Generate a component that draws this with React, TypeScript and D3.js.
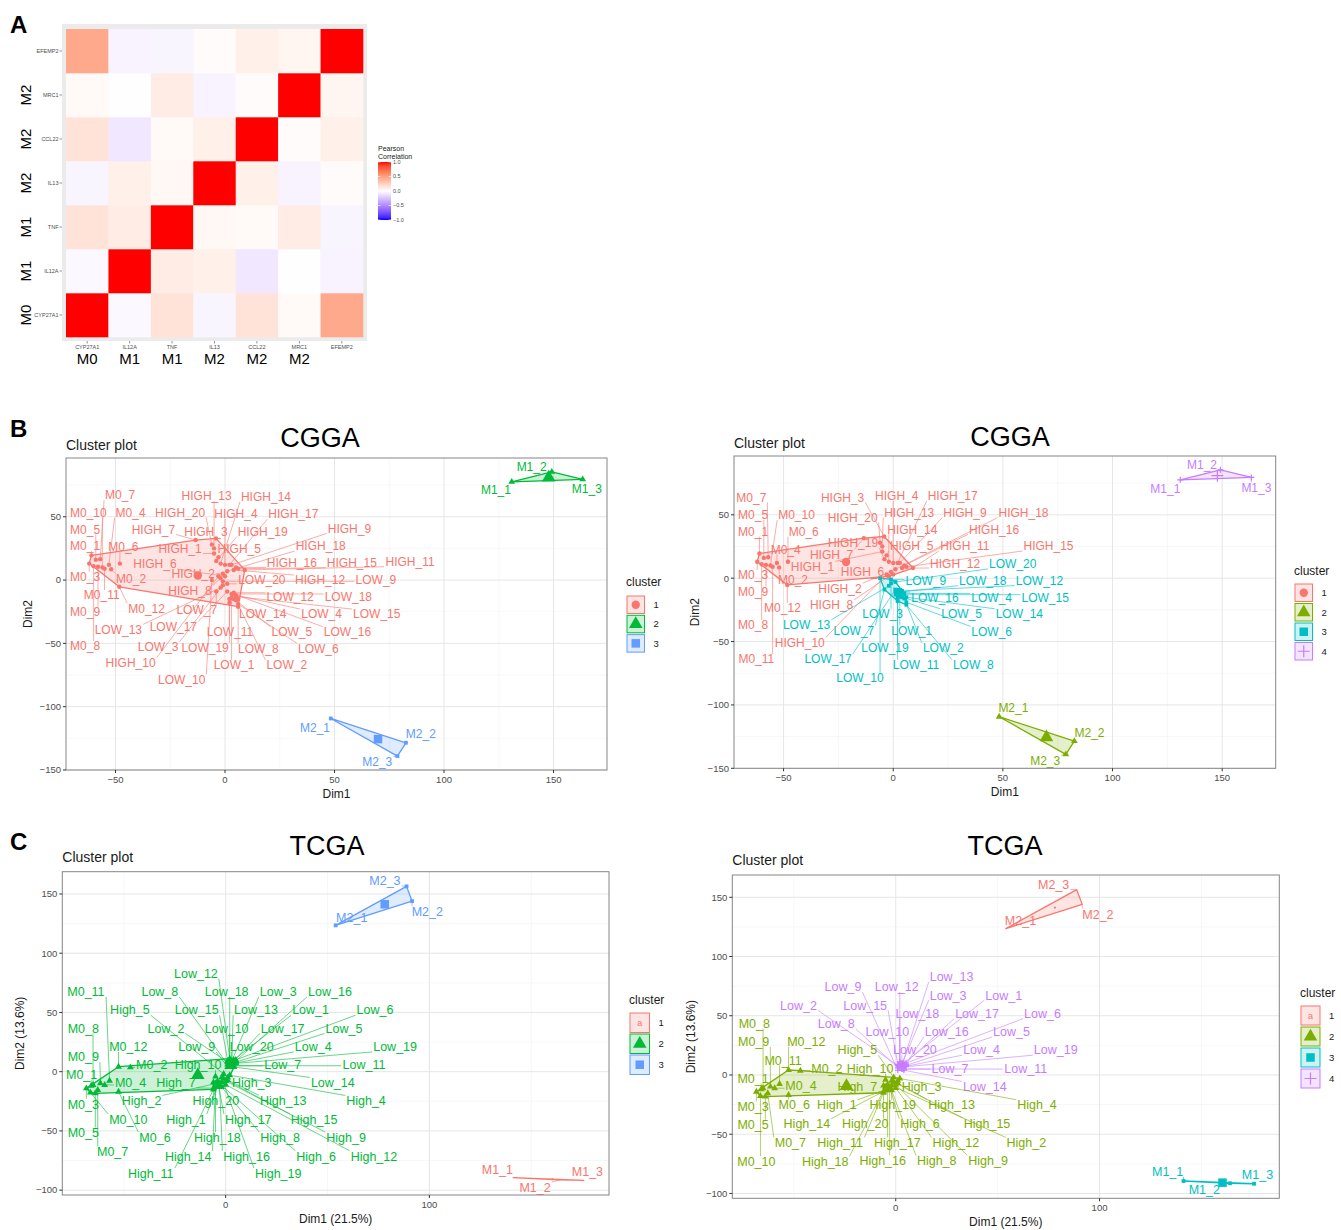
import React from 'react'
import * as d3 from 'd3'

// ---- panel A: correlation heatmap ----
const genes = ['CYP27A1', 'IL12A', 'TNF', 'IL13', 'CCL22', 'MRC1', 'EFEMP2']
const geneGroups = ['M0', 'M1', 'M1', 'M2', 'M2', 'M2', '']
// rows/cols in the order of genes
const corr = [
  [1.0, -0.03, 0.15, -0.04, 0.15, 0.03, 0.45],
  [-0.03, 1.0, 0.1, 0.08, -0.1, -0.01, -0.05],
  [0.15, 0.1, 1.0, 0.04, 0.03, 0.1, -0.04],
  [-0.04, 0.08, 0.04, 1.0, 0.08, -0.05, 0.02],
  [0.15, -0.1, 0.03, 0.08, 1.0, 0.02, 0.08],
  [0.03, -0.01, 0.1, -0.05, 0.02, 1.0, 0.05],
  [0.45, -0.05, -0.04, 0.02, 0.08, 0.05, 1.0],
]
const corrTicks = [1.0, 0.5, 0.0, -0.5, -1.0]

// ---- panels B/C: cluster plots ----
type Pt = [string, number, number]

const cggaPoints: Pt[] = [
  ['M0_1', -61, 19.5], ['M0_2', -52, 8.5], ['M0_3', -62, 13], ['M0_4', -53, 12], ['M0_5', -59, 16], ['M0_6', -48, 13],
  ['M0_7', -57, 16.5], ['M0_8', -60, 11], ['M0_9', -58, 10.5], ['M0_10', -56, 10], ['M0_11', -55, 9], ['M0_12', -48.3, -5.3],
  ['HIGH_1', -5, 21], ['HIGH_2', -1, 5], ['HIGH_3', -4.1, 32.9], ['HIGH_4', 0, 12], ['HIGH_5', -3, 18], ['HIGH_6', 0, 3],
  ['HIGH_7', -13.4, 31.6], ['HIGH_8', -2, 1.5], ['HIGH_9', 3, 12], ['HIGH_10', -3, 3], ['HIGH_11', 9, 8], ['HIGH_12', 4, 8],
  ['HIGH_13', -5, 25], ['HIGH_14', -2, 13], ['HIGH_15', 6, 9], ['HIGH_16', 5, 10], ['HIGH_17', 2, 12], ['HIGH_18', 1, 7],
  ['HIGH_19', -4, 15], ['HIGH_20', -6, 28],
  ['LOW_1', 3, -14], ['LOW_2', 5, -16], ['LOW_3', -1, -4], ['LOW_4', 5, -12], ['LOW_5', 4, -15], ['LOW_6', 6, -19],
  ['LOW_7', -4, -9], ['LOW_8', 6, -21], ['LOW_9', -1, -1], ['LOW_10', -6, 0], ['LOW_11', 2, -18], ['LOW_12', 4, -10],
  ['LOW_13', -2, -6], ['LOW_14', 6, -15], ['LOW_15', 5, -13], ['LOW_16', 4, -11], ['LOW_17', 1, -9], ['LOW_18', 3, -11],
  ['LOW_19', 2, -15], ['LOW_20', 1, -3],
  ['M1_1', 130.9, 77.6], ['M1_2', 149.2, 85.5], ['M1_3', 163.3, 79.5],
  ['M2_1', 48.3, -109.3], ['M2_2', 82.6, -128.5], ['M2_3', 78.7, -139],
]

const cggaLabelsK3: Pt[] = [
  ['M0_7', -47.9, 67.1], ['M0_10', -62.4, 53.2], ['M0_4', -43.1, 53.2], ['HIGH_20', -20.5, 53.2], ['HIGH_13', -8.4, 66.4],
  ['HIGH_14', 18.7, 65.8], ['HIGH_4', 5, 52.1], ['HIGH_17', 31.2, 52.1], ['M0_5', -63.9, 40], ['HIGH_7', -32.7, 40],
  ['HIGH_3', -8.7, 38.2], ['HIGH_19', 17.2, 38.2], ['HIGH_9', 56.8, 40.8], ['M0_1', -63.9, 26.9], ['M0_6', -46.4, 26.3],
  ['HIGH_1', -20.5, 25], ['HIGH_5', 6.5, 25], ['HIGH_18', 43.7, 26.9], ['HIGH_6', -32, 12.6], ['HIGH_2', -14.5, 5.3],
  ['HIGH_16', 30.5, 13.7], ['HIGH_15', 57.9, 13.7], ['HIGH_11', 84.5, 14.5], ['M0_3', -63.9, 2.6], ['M0_2', -42.9, 1.3],
  ['LOW_20', 16.8, 0], ['HIGH_12', 43.4, 0], ['LOW_9', 68.9, 0], ['HIGH_8', -16, -8.4], ['M0_11', -56.3, -11.8],
  ['LOW_12', 29.7, -13.2], ['LOW_18', 56.3, -13.2], ['M0_12', -35.8, -22.4], ['LOW_7', -12.9, -23.2], ['M0_9', -63.9, -25],
  ['LOW_14', 17.2, -26.9], ['LOW_4', 44.1, -26.9], ['LOW_15', 69.3, -26.9], ['LOW_13', -48.7, -39], ['LOW_17', -23.6, -36.9],
  ['LOW_11', 2.3, -40.8], ['LOW_5', 30.5, -40.8], ['LOW_16', 55.9, -40.8], ['M0_8', -63.9, -52.1], ['LOW_3', -30.5, -52.7],
  ['LOW_19', -9.1, -53.5], ['LOW_8', 15.2, -54], ['LOW_6', 42.6, -54], ['HIGH_10', -43.1, -65.3], ['LOW_1', 4.1, -67.1],
  ['LOW_2', 28.2, -67.1], ['LOW_10', -19.8, -78.4], ['M1_1', 123.7, 71.1], ['M1_2', 140, 89.5], ['M1_3', 165.2, 72.4],
  ['M2_1', 41.1, -116.4], ['M2_2', 89.4, -121.6], ['M2_3', 69.5, -143.5],
]

const cggaLabelsK4: Pt[] = [
  ['M0_7', -64.7, 63.8], ['HIGH_3', -23.1, 63.8], ['HIGH_4', 1.6, 64.8], ['HIGH_17', 27.1, 64.8], ['M0_5', -63.9, 49.8],
  ['M0_10', -44.1, 49.8], ['HIGH_20', -18.5, 48], ['HIGH_13', 7.3, 51.7], ['HIGH_9', 32.7, 51.7], ['HIGH_18', 59.4, 51.7],
  ['M0_1', -63.9, 36.7], ['M0_6', -40.8, 36.7], ['HIGH_14', 8.7, 38.6], ['HIGH_16', 46, 38.6], ['M0_4', -49, 22.8],
  ['HIGH_19', -18.3, 28], ['HIGH_5', 8.4, 25.4], ['HIGH_11', 32.7, 25.4], ['HIGH_15', 70.8, 25.4], ['HIGH_7', -28.1, 18.7],
  ['HIGH_1', -36.8, 9.3], ['HIGH_12', 28.2, 11.8], ['LOW_20', 54.5, 11.3], ['M0_3', -63.9, 2.6], ['M0_2', -45.7, -1],
  ['HIGH_6', -14, 5.2], ['LOW_9', 14.9, -1.9], ['LOW_18', 40.8, -1.9], ['LOW_12', 66.7, -1.9], ['M0_9', -63.9, -10.6],
  ['HIGH_2', -24.3, -7.9], ['LOW_16', 19, -15], ['LOW_4', 44.9, -15], ['LOW_15', 69.3, -15], ['M0_12', -50.5, -23.6],
  ['HIGH_8', -28.1, -21], ['LOW_3', -4.8, -28.1], ['LOW_5', 31.2, -28.1], ['LOW_14', 57.5, -28.1], ['M0_8', -63.9, -36.8],
  ['LOW_13', -39.5, -36.8], ['LOW_7', -17.9, -41.2], ['LOW_1', 8.4, -41.2], ['LOW_6', 44.9, -42], ['HIGH_10', -42.6, -50.7],
  ['LOW_19', -3.8, -55.1], ['LOW_2', 22.8, -55.1], ['M0_11', -62.4, -63.8], ['LOW_17', -29.7, -63.8], ['LOW_11', 10.4, -68.3],
  ['LOW_8', 36.5, -68.3], ['LOW_10', -15.2, -78.7], ['M2_1', 54.8, -102.4], ['M2_3', 69.3, -143.6], ['M2_2', 89.5, -121.6],
  ['M1_1', 124.1, 70.9], ['M1_2', 140.8, 89.2], ['M1_3', 165.6, 71.7],
]

const tcgaPoints: Pt[] = [
  ['M0_1', -66, -12], ['M0_2', -46.8, 3.6], ['M0_3', -68.4, -14.1], ['M0_4', -59.4, -11.2], ['M0_5', -64, -18.3],
  ['M0_6', -52.6, -16.9], ['M0_7', -62.8, -15.4], ['M0_8', -65.1, -11.2], ['M0_9', -61.5, -9.8], ['M0_10', -66.4, -17.7],
  ['M0_11', -57, -7.6], ['M0_12', -52.6, 4.2],
  ['High_1', -4, -12], ['High_2', -2, -9], ['High_3', 1, -5], ['High_4', 2, -3], ['High_5', -1, -2], ['High_6', -3, -10],
  ['High_7', -6, -14], ['High_8', -2, -13], ['High_9', 0, -8], ['High_10', -5, -4], ['High_11', -6, -15], ['High_12', 0, -11],
  ['High_13', 1, -7], ['High_14', -5, -13], ['High_15', -1, -6], ['High_16', -3, -12], ['High_17', -4, -8], ['High_18', -5, -10],
  ['High_19', -2, -5], ['High_20', -6, -9],
  ['Low_1', 4, 10], ['Low_2', 1, 8], ['Low_3', 3, 9], ['Low_4', 4, 7], ['Low_5', 5, 8], ['Low_6', 5, 10], ['Low_7', 3, 5],
  ['Low_8', 1, 6], ['Low_9', 1, 4], ['Low_10', 2, 7], ['Low_11', 4, 5], ['Low_12', 2, 11], ['Low_13', 3, 8], ['Low_14', 4, 4],
  ['Low_15', 1, 9], ['Low_16', 5, 9], ['Low_17', 4, 9], ['Low_18', 2, 9], ['Low_19', 5, 7], ['Low_20', 3, 6],
  ['M1_1', 141.2, -89.5], ['M1_2', 164, -91.4], ['M1_3', 175.8, -91.8],
  ['M2_1', 54, 123.5], ['M2_2', 91.5, 144], ['M2_3', 88.8, 156.4],
]

const tcgaLabelsK3: Pt[] = [
  ['M2_3', 78.2, 161.3], ['M2_1', 61.9, 130.4], ['M2_2', 99, 135.1], ['Low_12', -14.6, 83.1], ['M0_11', -68.6, 67.6],
  ['Low_8', -32.3, 67.6], ['Low_18', 0.5, 67.6], ['Low_3', 25.8, 67.6], ['Low_16', 51.2, 67.6], ['High_5', -47, 52.1],
  ['Low_15', -14.2, 52.1], ['Low_13', 14.9, 52.1], ['Low_1', 41.7, 52.1], ['Low_6', 73.3, 52.1], ['M0_8', -69.9, 36.7],
  ['Low_2', -29.3, 36.7], ['Low_10', 0.5, 36.7], ['Low_17', 28, 36.7], ['Low_5', 58.1, 36.7], ['M0_12', -47.8, 21.1],
  ['Low_9', -14.2, 21.1], ['Low_20', 12.8, 21.1], ['Low_4', 43, 21.1], ['Low_19', 83.2, 21.1], ['M0_9', -69.9, 12.7],
  ['M0_2', -36.3, 5.7], ['High_10', -13.5, 5.7], ['Low_7', 28, 5.7], ['Low_11', 67.9, 5.7], ['M0_1', -70.7, -2.8],
  ['M0_4', -46.7, -9.3], ['High_7', -24.4, -9.3], ['High_3', 12.8, -9.3], ['Low_14', 52.6, -9.3], ['M0_3', -69.9, -27.3],
  ['High_2', -41.3, -24.5], ['High_20', -4.8, -24.5], ['High_13', 28.3, -24.5], ['High_4', 68.9, -24.5], ['M0_10', -47.8, -40.2],
  ['High_1', -19.5, -40.2], ['High_17', 11.1, -40.2], ['High_15', 43.4, -40.2], ['M0_5', -69.9, -51.5], ['M0_6', -34.7, -55.4],
  ['High_18', -4.1, -55.4], ['High_8', 26.7, -55.4], ['High_9', 59.1, -55.4], ['M0_7', -55.5, -67.6], ['High_14', -18.4, -71.2],
  ['High_16', 10.3, -71.2], ['High_6', 44.4, -71.2], ['High_12', 72.8, -71.2], ['High_11', -36.8, -85.8], ['High_19', 25.8, -85.8],
  ['M1_1', 133.4, -82.4], ['M1_3', 177.6, -84.5], ['M1_2', 151.9, -97.6],
]

const tcgaLabelsK4: Pt[] = [
  ['M2_3', 77.5, 161], ['M2_1', 61.2, 130.7], ['M2_2', 99.2, 135.8], ['Low_13', 27.4, 82.9], ['Low_9', -25.9, 74.5],
  ['Low_12', 0.5, 74.5], ['Low_3', 25.7, 67.5], ['Low_1', 53, 67.5], ['Low_2', -47.7, 59], ['Low_15', -15, 59],
  ['Low_18', 10.6, 52], ['Low_17', 39.9, 52], ['Low_6', 72, 52], ['M0_8', -69.4, 43.6], ['Low_8', -29.2, 43.6],
  ['Low_10', -4.1, 36.5], ['Low_16', 25, 36.5], ['Low_5', 56.8, 36.5], ['M0_9', -69.7, 28.1], ['M0_12', -43.9, 28.1],
  ['High_5', -18.8, 21.1], ['Low_20', 9.4, 21.1], ['Low_4', 42.1, 21.1], ['Low_19', 78.5, 21.1], ['M0_11', -55.3, 12.6],
  ['M0_2', -33.8, 5.6], ['High_10', -12.6, 5.6], ['Low_7', 26.6, 5.6], ['Low_11', 63.8, 5.6], ['M0_1', -70, -2.8],
  ['M0_4', -46.5, -9.3], ['High_7', -18.8, -9.9], ['High_3', 12.7, -9.9], ['Low_14', 43.7, -9.9], ['M0_3', -70, -26.7],
  ['M0_6', -49.8, -25.3], ['High_1', -28.9, -25.3], ['High_19', -1.5, -25.3], ['High_13', 27.4, -25.3], ['High_4', 69.3, -25.3],
  ['M0_5', -70, -42.2], ['High_14', -43.6, -41.3], ['High_20', -15, -41.3], ['High_6', 11.9, -41.3], ['High_15', 44.8, -40.7],
  ['M0_7', -51.7, -57.1], ['High_11', -27.3, -57.1], ['High_17', 0.8, -57.1], ['High_12', 29.5, -57.1], ['High_2', 64.1, -57.1],
  ['M0_10', -68.4, -73.1], ['High_18', -34.6, -73.1], ['High_16', -6.4, -72.3], ['High_8', 20.1, -72.3], ['High_9', 45.3, -72.3],
  ['M1_1', 133.4, -81.5], ['M1_3', 177.5, -84.3], ['M1_2', 151.4, -97],
]

// cluster membership by sample group
const cggaClustersK3: Record<string, number> = { M0: 1, HIGH: 1, LOW: 1, M1: 2, M2: 3 }
const cggaClustersK4: Record<string, number> = { M0: 1, HIGH: 1, M2: 2, LOW: 3, M1: 4 }
const tcgaClustersK3: Record<string, number> = { M1: 1, M0: 2, High: 2, Low: 2, M2: 3 }
const tcgaClustersK4: Record<string, number> = { M2: 1, M0: 2, High: 2, M1: 3, Low: 4 }

const hue3 = ['#F8766D', '#00BA38', '#619CFF']
const hue4 = ['#F8766D', '#7CAE00', '#00BFC4', '#C77CFF']

const cggaXTicks = [-50, 0, 50, 100, 150]
const cggaYTicks = [-150, -100, -50, 0, 50]
const tcgaXTicks = [0, 100]
const tcgaYTicks = [-100, -50, 0, 50, 100, 150]

const FONT = "'Liberation Sans', Arial, Helvetica, sans-serif"
const charW: Record<string, number> = { H: 0.722, I: 0.278, G: 0.778, L: 0.556, O: 0.778, W: 0.944, M: 0.833, i: 0.222, w: 0.722 }
const textW = (s: string, fs: number) => s.split('').reduce((a, c) => a + (charW[c] ?? 0.556) * fs, 0)
const fmt = (v: number) => (v < 0 ? '\u2212' + Math.abs(v) : String(v))

function minorBreaks(ticks: number[], dom: number[]) {
  const step = ticks[1] - ticks[0]
  const out: number[] = []
  for (let v = ticks[0] - step / 2; v <= ticks[ticks.length - 1] + step / 2; v += step)
    if (v > dom[0] && v < dom[1]) out.push(v)
  return out
}

function mark(c: number, cx: number, cy: number, big: boolean, color: string, key?: any) {
  if (c === 1) return <circle key={key} cx={cx} cy={cy} r={big ? 4.2 : 2.2} fill={color} />
  if (c === 2)
    return <path key={key} transform={`translate(${cx},${cy})`} d={d3.symbol(d3.symbolTriangle, big ? 80 : 20)() || ''} fill={color} />
  if (c === 3) {
    const s = big ? 8.5 : 3.8
    return <rect key={key} x={cx - s / 2} y={cy - s / 2} width={s} height={s} fill={color} />
  }
  const s = big ? 6 : 3
  return <path key={key} d={`M${cx - s},${cy}H${cx + s}M${cx},${cy - s}V${cy + s}`} stroke={color} strokeWidth={1.2} fill="none" />
}

function ClusterPlot(props: any) {
  const { box, xDomain, yDomain, xTicks, yTicks, points, labels, groups, colors, fs, header, headerX, headerY,
    titleY, xTitle, yTitle, yTitleX, legend, hidden } = props
  const x = d3.scaleLinear().domain(xDomain).range([box.l, box.r])
  const y = d3.scaleLinear().domain(yDomain).range([box.b, box.t])
  const clusterOf = (n: string) => groups[n.split('_')[0]]
  const pos = new Map<string, [number, number]>(points.map((p: Pt) => [p[0], [x(p[1]), y(p[2])]]))
  const clusters = d3.range(1, colors.length + 1)
  const members = clusters.map(c => points.filter((p: Pt) => clusterOf(p[0]) === c))
  const col = (c: number) => colors[c - 1]

  return (
    <g fontFamily={FONT}>
      <rect x={box.l} y={box.t} width={box.r - box.l} height={box.b - box.t} fill="#fff" />
      {minorBreaks(xTicks, xDomain).map(v => <line key={'mx' + v} x1={x(v)} x2={x(v)} y1={box.t} y2={box.b} stroke="#F2F2F2" strokeWidth={0.6} />)}
      {minorBreaks(yTicks, yDomain).map(v => <line key={'my' + v} y1={y(v)} y2={y(v)} x1={box.l} x2={box.r} stroke="#F2F2F2" strokeWidth={0.6} />)}
      {xTicks.map((v: number) => <line key={'gx' + v} x1={x(v)} x2={x(v)} y1={box.t} y2={box.b} stroke="#E6E6E6" strokeWidth={1} />)}
      {yTicks.map((v: number) => <line key={'gy' + v} y1={y(v)} y2={y(v)} x1={box.l} x2={box.r} stroke="#E6E6E6" strokeWidth={1} />)}

      {members.map((m: Pt[], i: number) => {
        if (m.length < 2) return null
        const hull = d3.polygonHull(m.map(p => pos.get(p[0]) as [number, number])) || m.map(p => pos.get(p[0]) as [number, number])
        return <path key={'h' + i} d={'M' + hull.map(p => p.join(',')).join('L') + 'Z'} fill={colors[i]} fillOpacity={0.2}
          stroke={colors[i]} strokeWidth={1.3} strokeLinejoin="round" />
      })}

      {members.map((m: Pt[], i: number) =>
        m.map(p => {
          const c = i + 1
          if (hidden === c) return null
          const [px, py] = pos.get(p[0]) as [number, number]
          return mark(c, px, py, false, colors[i], 'p' + p[0])
        })
      )}
      {members.map((m: Pt[], i: number) => {
        if (!m.length) return null
        const cx = x(d3.mean(m, p => p[1]) as number)
        const cy = y(d3.mean(m, p => p[2]) as number)
        if (hidden === i + 1) return <circle key={'c' + i} cx={cx} cy={cy} r={1.1} fill={colors[i]} />
        return mark(i + 1, cx, cy, true, colors[i], 'c' + i)
      })}

      {labels.map((l: Pt) => {
        const c = clusterOf(l[0])
        const [px, py] = pos.get(l[0]) as [number, number]
        const lx = x(l[1]), ly = y(l[2])
        const w = textW(l[0], fs) / 2 + 1, h = fs * 0.42
        const qx = Math.max(lx - w, Math.min(lx + w, px))
        const qy = Math.max(ly - h, Math.min(ly + h, py))
        const far = Math.hypot(qx - px, qy - py) > 4
        return (
          <g key={'l' + l[0]}>
            {far && <line x1={px} y1={py} x2={qx} y2={qy} stroke={col(c)} strokeWidth={0.6} />}
            <text x={lx} y={ly} dy="0.36em" textAnchor="middle" fontSize={fs} fill={col(c)}>{l[0]}</text>
          </g>
        )
      })}

      <rect x={box.l} y={box.t} width={box.r - box.l} height={box.b - box.t} fill="none" stroke="#858585" strokeWidth={1} />

      {xTicks.map((v: number) => (
        <g key={'tx' + v}>
          <line x1={x(v)} x2={x(v)} y1={box.b} y2={box.b + 3} stroke="#333" />
          <text x={x(v)} y={box.b + 13} textAnchor="middle" fontSize={9.5} fill="#4D4D4D">{fmt(v)}</text>
        </g>
      ))}
      {yTicks.map((v: number) => (
        <g key={'ty' + v}>
          <line x1={box.l - 3} x2={box.l} y1={y(v)} y2={y(v)} stroke="#333" />
          <text x={box.l - 5} y={y(v)} dy="0.35em" textAnchor="end" fontSize={9.5} fill="#4D4D4D">{fmt(v)}</text>
        </g>
      ))}
      <text x={(box.l + box.r) / 2} y={box.b + 28} textAnchor="middle" fontSize={12} fill="#1a1a1a">{xTitle}</text>
      <text transform={`translate(${yTitleX},${(box.t + box.b) / 2}) rotate(-90)`} textAnchor="middle" fontSize={12} fill="#1a1a1a">{yTitle}</text>
      <text x={box.l} y={titleY} fontSize={14} fill="#1a1a1a">Cluster plot</text>
      <text x={headerX} y={headerY} textAnchor="middle" fontSize={27} fill="#000">{header}</text>

      <text x={legend.x} y={legend.y} fontSize={12} fill="#1a1a1a">cluster</text>
      {clusters.map((c, i) => {
        const ky = legend.top + i * legend.step
        const s = legend.size
        const kx = legend.x + 1
        return (
          <g key={'k' + c}>
            <rect x={kx} y={ky} width={s} height={s} fill={col(c)} fillOpacity={0.2} stroke={col(c)} strokeWidth={1} />
            {hidden === c
              ? <text x={kx + s / 2} y={ky + s / 2} dy="0.35em" textAnchor="middle" fontSize={9} fill={col(c)}>a</text>
              : mark(c, kx + s / 2, ky + s / 2, true, col(c))}
            <text x={kx + s + 9} y={ky + s / 2} dy="0.35em" fontSize={9.5} fill="#1a1a1a">{c}</text>
          </g>
        )
      })}
    </g>
  )
}

function Heatmap() {
  const x = d3.scaleBand().domain(genes).range([66, 363])
  const y = d3.scaleBand().domain(genes).range([337, 29])
  const color = d3.scaleLinear<string>().domain([-1, 0, 1]).range(['blue', 'white', 'red']).interpolate(d3.interpolateLab)
  const leg = d3.scaleLinear().domain([-1, 1]).range([220, 162])
  const stops = d3.ticks(-1, 1, 20)
  return (
    <g fontFamily={FONT}>
      <defs>
        <linearGradient id="corrbar" x1="0" y1="1" x2="0" y2="0">
          {stops.map(v => <stop key={v} offset={(v + 1) / 2} stopColor={color(v)} />)}
        </linearGradient>
      </defs>
      <rect x={62} y={24} width={305} height={317} fill="#EBEBEB" />
      {genes.map((rg, r) =>
        genes.map((cg, c) => (
          <rect key={rg + cg} x={x(cg)} y={y(rg)} width={x.bandwidth() + 0.3} height={y.bandwidth() + 0.3} fill={color(corr[r][c])} />
        ))
      )}
      {genes.map(g => (
        <g key={'y' + g}>
          <line x1={59.5} x2={62} y1={(y(g) as number) + y.bandwidth() / 2} y2={(y(g) as number) + y.bandwidth() / 2} stroke="#4D4D4D" strokeWidth={0.6} />
          <text x={58.5} y={(y(g) as number) + y.bandwidth() / 2} dy="0.35em" textAnchor="end" fontSize={5.5} fill="#4D4D4D">{g}</text>
          <line y1={341} y2={343.5} x1={(x(g) as number) + x.bandwidth() / 2} x2={(x(g) as number) + x.bandwidth() / 2} stroke="#4D4D4D" strokeWidth={0.6} />
          <text x={(x(g) as number) + x.bandwidth() / 2} y={349} textAnchor="middle" fontSize={5.5} fill="#4D4D4D">{g}</text>
        </g>
      ))}
      {genes.map((g, i) => geneGroups[i] && (
        <g key={'grp' + g}>
          <text x={(x(g) as number) + x.bandwidth() / 2} y={364} textAnchor="middle" fontSize={15} fill="#000">{geneGroups[i]}</text>
          <text transform={`translate(30.5,${(y(g) as number) + y.bandwidth() / 2}) rotate(-90)`} textAnchor="middle" fontSize={15} fill="#000">{geneGroups[i]}</text>
        </g>
      ))}
      <text x={378} y={151} fontSize={7} fill="#1a1a1a">Pearson</text>
      <text x={378} y={159} fontSize={7} fill="#1a1a1a">Correlation</text>
      <rect x={378} y={162} width={13} height={58} fill="url(#corrbar)" />
      {corrTicks.map(v => (
        <g key={'ct' + v}>
          <line x1={378} x2={380.5} y1={leg(v)} y2={leg(v)} stroke="#fff" strokeWidth={0.6} />
          <line x1={388.5} x2={391} y1={leg(v)} y2={leg(v)} stroke="#fff" strokeWidth={0.6} />
          <text x={393} y={leg(v)} dy="0.35em" fontSize={5.5} fill="#4D4D4D">{v === 0 ? '0.0' : (v < 0 ? '\u2212' : '') + Math.abs(v).toFixed(1)}</text>
        </g>
      ))}
    </g>
  )
}

export default function App() {
  const cggaX = [-72.6, 174.4], cggaY = [-150, 96.4]
  const tcgaX = [-80.2, 188.2], tcgaY = [-104.1, 168.8]
  return (
    <svg width={1341} height={1230} style={{ position: 'absolute', left: 0, top: 0, background: '#fff' }} fontFamily={FONT}>
      <text x={10} y={33} fontSize={24} fontWeight="bold">A</text>
      <text x={10} y={437} fontSize={24} fontWeight="bold">B</text>
      <text x={10} y={850} fontSize={24} fontWeight="bold">C</text>
      <Heatmap />
      <ClusterPlot box={{ l: 66, r: 607, t: 458, b: 770 }} xDomain={cggaX} yDomain={cggaY} xTicks={cggaXTicks} yTicks={cggaYTicks}
        points={cggaPoints} labels={cggaLabelsK3} groups={cggaClustersK3} colors={hue3} fs={12}
        header="CGGA" headerX={320} headerY={447} titleY={450} xTitle="Dim1" yTitle="Dim2" yTitleX={32}
        legend={{ x: 626, y: 586, top: 596, step: 19.3, size: 17.5 }} />
      <ClusterPlot box={{ l: 734, r: 1275.7, t: 456, b: 768.3 }} xDomain={cggaX} yDomain={cggaY} xTicks={cggaXTicks} yTicks={cggaYTicks}
        points={cggaPoints} labels={cggaLabelsK4} groups={cggaClustersK4} colors={hue4} fs={12}
        header="CGGA" headerX={1010} headerY={446} titleY={448} xTitle="Dim1" yTitle="Dim2" yTitleX={699}
        legend={{ x: 1294, y: 575, top: 584, step: 19.5, size: 17.5 }} />
      <ClusterPlot box={{ l: 62.3, r: 609, t: 871.7, b: 1195 }} xDomain={tcgaX} yDomain={tcgaY} xTicks={tcgaXTicks} yTicks={tcgaYTicks}
        points={tcgaPoints} labels={tcgaLabelsK3} groups={tcgaClustersK3} colors={hue3} fs={12.5} hidden={1}
        header="TCGA" headerX={327} headerY={855} titleY={862} xTitle="Dim1 (21.5%)" yTitle="Dim2 (13.6%)" yTitleX={24}
        legend={{ x: 629, y: 1004, top: 1013, step: 21, size: 19.5 }} />
      <ClusterPlot box={{ l: 732.3, r: 1279.3, t: 875, b: 1198.3 }} xDomain={tcgaX} yDomain={tcgaY} xTicks={tcgaXTicks} yTicks={tcgaYTicks}
        points={tcgaPoints} labels={tcgaLabelsK4} groups={tcgaClustersK4} colors={hue4} fs={12.5} hidden={1}
        header="TCGA" headerX={1005} headerY={855} titleY={865} xTitle="Dim1 (21.5%)" yTitle="Dim2 (13.6%)" yTitleX={694.7}
        legend={{ x: 1300, y: 997, top: 1006, step: 21, size: 19 }} />
    </svg>
  )
}
